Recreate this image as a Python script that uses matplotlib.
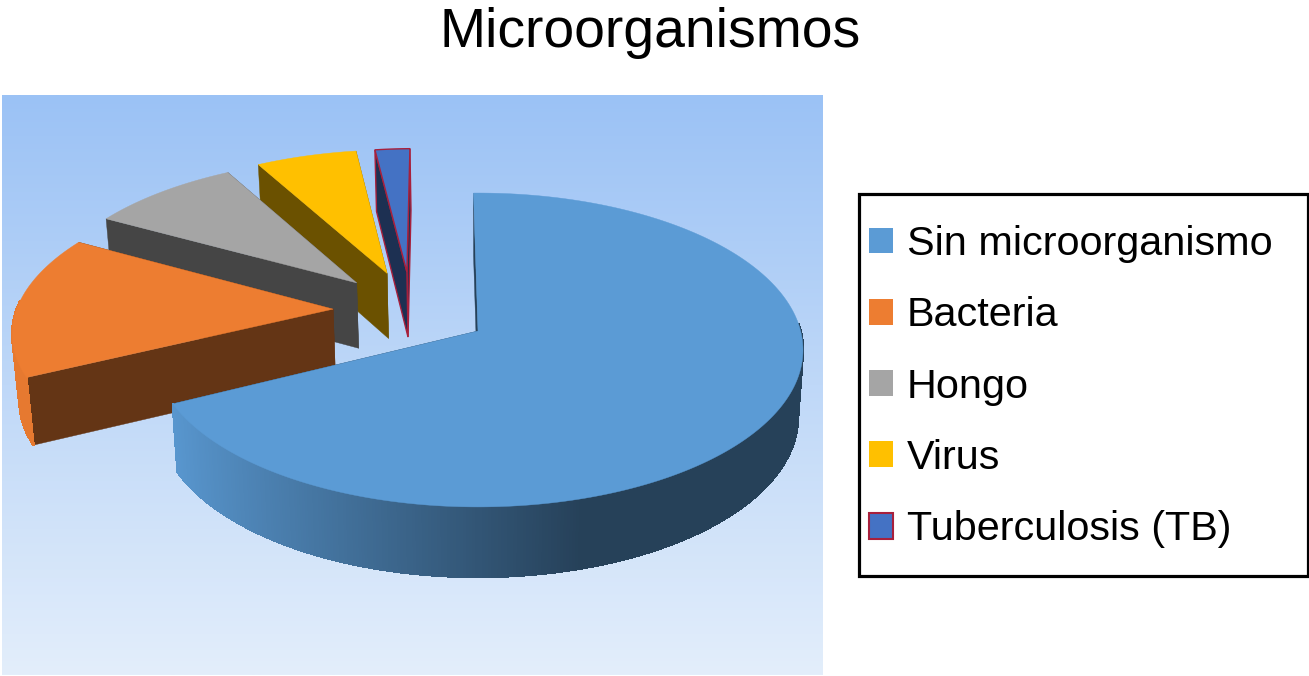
import numpy as np
import matplotlib
matplotlib.use("Agg")
import matplotlib.pyplot as plt
from matplotlib.patches import Polygon, Rectangle
from matplotlib.collections import PolyCollection
from matplotlib.colors import to_rgb, LinearSegmentedColormap

# ---- data ----
title = "Microorganismos"
categories = ["Sin microorganismo", "Bacteria", "Hongo", "Virus", "Tuberculosis (TB)"]
values = [67.9, 15.4, 8.7, 5.9, 2.1]

# ---- style ----
colors = ["#5b9bd5", "#ed7d31", "#a5a5a5", "#ffc000", "#4472c4"]
edge_colors = [None, None, None, None, "#a8203c"]
explode = [0.0, 0.479, 0.507, 0.489, 0.462]
explode_dir = [0.0, 287.5, 309.6, 322.9, 330.0]
radius_x = [1.0, 0.998, 0.998, 0.985, 0.96]
radius_y = [1.0, 0.975, 0.975, 0.975, 0.975]
start_angle = -0.9
DARK = 0.42

# camera
CX, CY = 478.0, 331.0
D, G, F = 8.27, 1279.0, 2668.0


def project(X, Y):
    k = D + Y
    return CX + F * X / k, CY - G * Y / k


def lower(X, Y):
    x, y = project(X, Y)
    return CX + (x - CX) * 0.9845, y + 66.5 - 3.6 * Y


def shade(c, s):
    return tuple(v * s for v in to_rgb(c))


fig = plt.figure(figsize=(13.09, 6.76), dpi=100, facecolor="white")
ax = fig.add_axes([0, 0, 1, 1])
ax.set_xlim(0, 1309)
ax.set_ylim(676, 0)
ax.axis("off")

cmap = LinearSegmentedColormap.from_list("bg", ["#9bc2f5", "#e3eefb"])
ax.imshow(np.linspace(0, 1, 256)[:, None], cmap=cmap, aspect="auto",
          extent=(2, 823, 675, 95), zorder=0, interpolation="bilinear")
ax.set_xlim(0, 1309)
ax.set_ylim(676, 0)

fracs = np.array(values, dtype=float) / sum(values) * 360.0
starts = start_angle + np.concatenate([[0], np.cumsum(fracs)[:-1]])

z = 1
for i in reversed(range(len(values))):
    a0, a1 = starts[i], starts[i] + fracs[i]
    rx, ry = radius_x[i], radius_y[i]
    ox = explode[i] * np.sin(np.radians(explode_dir[i]))
    oy = explode[i] * np.cos(np.radians(explode_dir[i]))
    th = np.radians(np.arange(a0, a1, 0.5).tolist() + [a1])
    X = ox + rx * np.sin(th)
    Y = oy + ry * np.cos(th)
    col = colors[i]
    ec = edge_colors[i]
    dark = shade(col, DARK)

    def edge_quad(ang):
        t = np.radians(ang)
        xo, yo = ox + rx * np.sin(t), oy + ry * np.cos(t)
        return [project(ox, oy), project(xo, yo), lower(xo, yo), lower(ox, oy)]

    # inner faces
    for ang in (a1, a0):
        ax.add_patch(Polygon(edge_quad(ang), closed=True, fc=dark,
                             ec=ec if ec else dark, lw=1.0 if ec else 0.3, zorder=z))
        z += 1

    # outer rim, shaded along its length
    quads, fcs = [], []
    for j in range(len(th) - 1):
        if np.cos(th[j]) > 0.05:
            continue
        quads.append([project(X[j], Y[j]), project(X[j + 1], Y[j + 1]),
                      lower(X[j + 1], Y[j + 1]), lower(X[j], Y[j])])
        u = np.clip((np.sin(th[j]) + 0.9) / 1.18, 0, 1)
        fcs.append(shade(col, 0.97 + (DARK - 0.97) * u))
    if quads:
        ax.add_collection(PolyCollection(quads, facecolors=fcs, edgecolors=fcs,
                                         linewidths=1.0, antialiaseds=False, zorder=z))
        z += 1

    # top face
    top = [project(ox, oy)] + [project(a, b) for a, b in zip(X, Y)]
    ax.add_patch(Polygon(top, closed=True, fc=col, ec=ec if ec else col,
                         lw=1.0 if ec else 0.3, zorder=z))
    z += 1

# ---- title ----
ax.text(650, 33, title, ha="center", va="center", fontsize=39.8,
        family="Liberation Sans", color="black", zorder=z)

# ---- legend ----
ax.add_patch(Rectangle((859, 194), 449, 381.5, fc="white", ec="black", lw=2.3, zorder=z))
handles = [Rectangle((0, 0), 1, 1, fc=c, ec=e if e else c, lw=1.5 if e else 0)
           for c, e in zip(colors, edge_colors)]
leg = ax.legend(handles, categories, loc="upper left", bbox_to_anchor=(869, 225),
                bbox_transform=ax.transData, frameon=False, borderpad=0, borderaxespad=0,
                prop={"family": "Liberation Sans", "size": 29.8},
                handlelength=0.58, handleheight=0.58, handletextpad=0.34, labelspacing=0.805)
leg.set_zorder(z + 1)

fig.savefig("out.png", dpi=100)
